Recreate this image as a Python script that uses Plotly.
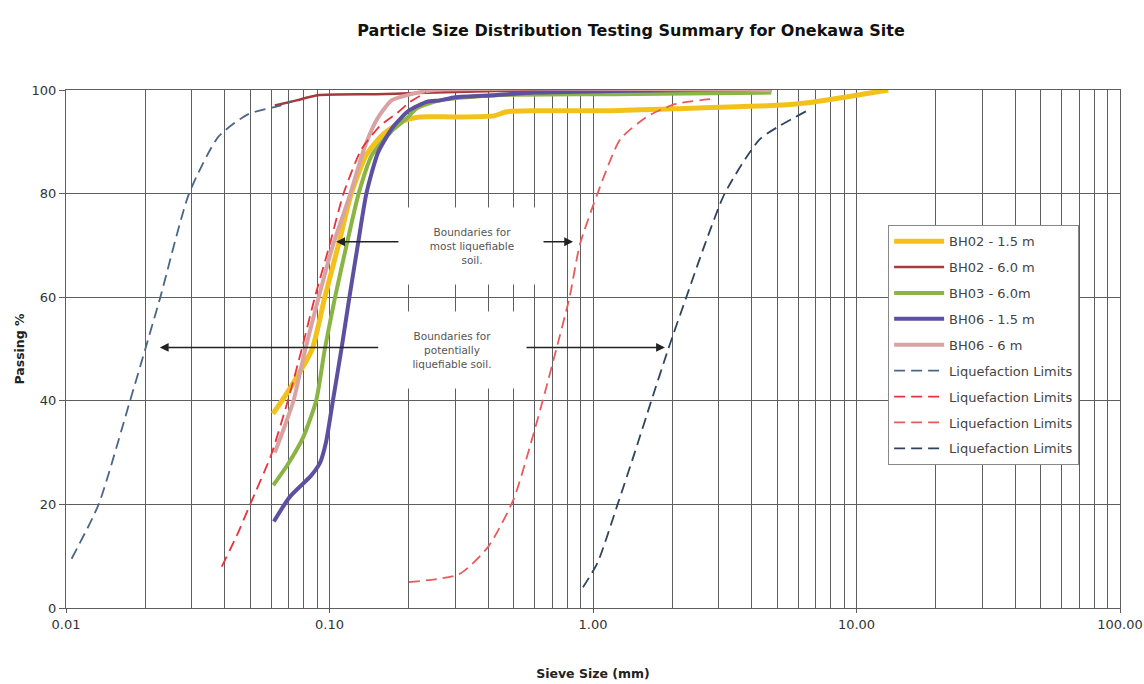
import numpy as np
import plotly.graph_objects as go

# ---- Sieve test results (sieve size in mm, percent passing) ----
bh02_15_x = [0.061, 0.068, 0.075, 0.086, 0.096, 0.108, 0.121, 0.138, 0.16, 0.19, 0.22, 0.3, 0.42, 0.47, 0.6, 1.18, 2.36, 4.75, 6.7, 9.5, 13.2]
bh02_15_y = [37.5, 41, 44.5, 50, 60, 70, 80, 87.5, 91.5, 94, 94.8, 94.8, 95, 95.8, 96, 96, 96.5, 97, 97.6, 98.8, 100]

bh02_60_x = [0.062, 0.075, 0.09, 0.15, 0.212, 0.3, 0.425, 1.18, 4.75]
bh02_60_y = [97, 98, 99, 99.2, 99.4, 99.6, 99.8, 100, 100]

bh03_60_x = [0.0612, 0.07, 0.0795, 0.089, 0.096, 0.105, 0.116, 0.129, 0.145, 0.174, 0.197, 0.215, 0.263, 0.425, 1.18, 4.75]
bh03_60_y = [23.7, 28, 33, 40, 50, 60, 70, 80, 87.5, 92.3, 94.6, 96.5, 98, 99, 99.2, 99.5]

bh06_15_x = [0.0615, 0.0708, 0.085, 0.092, 0.097, 0.103, 0.111, 0.119, 0.128, 0.138, 0.153, 0.175, 0.2, 0.234, 0.263, 0.3, 0.425, 0.6, 1.18, 2.36, 4.75]
bh06_15_y = [16.7, 21.5, 25.5, 28, 32, 40, 50, 60, 70, 80, 88, 93, 96, 97.7, 98, 98.6, 99, 99.5, 99.8, 100, 100]

bh06_6_x = [0.062, 0.0675, 0.073, 0.081, 0.091, 0.103, 0.12, 0.136, 0.152, 0.172, 0.197, 0.25, 4.75]
bh06_6_y = [30, 35, 40, 50, 60, 70, 80, 89, 94.5, 98, 99, 100, 100]

# ---- Liquefaction limit envelopes ----
lim_fine_pot_x = [0.0105, 0.0133, 0.0175, 0.02, 0.0228, 0.0293, 0.0379, 0.049, 0.065, 0.072]
lim_fine_pot_y = [9.5, 20, 40, 50, 60, 80, 91, 95.3, 97, 97.8]

lim_fine_most_x = [0.039, 0.0445, 0.05, 0.06, 0.0695, 0.0785, 0.088, 0.1, 0.113, 0.132, 0.155, 0.18, 0.202, 0.232]
lim_fine_most_y = [8, 14, 20, 29.5, 40, 50, 60, 70, 80, 88.5, 93, 95.5, 97.7, 99.5]

lim_coarse_most_x = [0.2, 0.31, 0.4, 0.5, 0.59, 0.66, 0.726, 0.815, 0.89, 1.04, 1.27, 1.62, 2.06, 2.86]
lim_coarse_most_y = [5, 6.5, 11.8, 21, 33, 42, 50, 60, 70, 80, 90.5, 95, 97.3, 98.3]

lim_coarse_pot_x = [0.916, 1.04, 1.24, 1.44, 1.665, 1.93, 2.26, 2.65, 3.16, 4.3, 6.5]
lim_coarse_pot_y = [4, 8.7, 20, 30, 40, 50, 60, 70, 80, 90.5, 96]

x_tick_vals = [0.01, 0.1, 1, 10, 100]
x_tick_text = ["0.01", "0.10", "1.00", "10.00", "100.00"]
y_tick_vals = [0, 20, 40, 60, 80, 100]

FONT = "DejaVu Sans"
GRID = "#5e5e5e"

fig = go.Figure()

samples = [
    ("BH02 - 1.5 m", bh02_15_x, bh02_15_y, "#f2c21a", 5),
    ("BH02 - 6.0 m", bh02_60_x, bh02_60_y, "#a5393b", 2.5),
    ("BH03 - 6.0m", bh03_60_x, bh03_60_y, "#8ab443", 4),
    ("BH06 - 1.5 m", bh06_15_x, bh06_15_y, "#5e50a0", 4),
    ("BH06 - 6 m", bh06_6_x, bh06_6_y, "#d9a3a3", 4),
]
for i, (name, xs, ys, col, w) in enumerate(samples):
    fig.add_trace(go.Scatter(
        x=xs, y=ys, name=name, mode="lines", legendgroup=f"g{i}",
        line=dict(color=col, width=w, shape="spline", smoothing=0.6),
    ))

limits = [
    (lim_fine_pot_x, lim_fine_pot_y, "#4a6687"),
    (lim_fine_most_x, lim_fine_most_y, "#e8323c"),
    (lim_coarse_most_x, lim_coarse_most_y, "#e65c5c"),
    (lim_coarse_pot_x, lim_coarse_pot_y, "#2f4460"),
]
for j, (xs, ys, col) in enumerate(limits):
    fig.add_trace(go.Scatter(
        x=xs, y=ys, name="Liquefaction Limits", mode="lines",
        legendgroup=f"l{j}",
        line=dict(color=col, width=1.8, dash="11px,6px", shape="spline", smoothing=0.6),
    ))

# Boundary arrows: (head x, head y, tail x, tail y) in data units
arrows = [
    (0.106, 70.7, 0.185, 70.7),
    (0.84, 70.7, 0.63, 70.7),
    (0.0227, 50.3, 0.155, 50.3),
    (1.875, 50.3, 0.552, 50.3),
]
annotations = []
for hx, hy, tx, ty in arrows:
    annotations.append(dict(
        x=np.log10(hx), y=hy, ax=np.log10(tx), ay=ty,
        xref="x", yref="y", axref="x", ayref="y",
        text="", showarrow=True, arrowhead=2, arrowsize=1.1,
        arrowwidth=1.6, arrowcolor="#222222",
    ))

boxes = [
    (0.3475, 69.9, "Boundaries for<br>most liquefiable<br>soil."),
    (0.2917, 49.8, "Boundaries for<br>potentially<br>liquefiable soil."),
]
for bx, by, txt in boxes:
    annotations.append(dict(
        x=np.log10(bx), y=by, xref="x", yref="y", text=txt, showarrow=False,
        bgcolor="white", width=140, height=74, align="center",
        font=dict(family=FONT, size=10.5, color="#555555"),
    ))

fig.update_layout(
    width=1144, height=684,
    margin=dict(l=66, r=24, t=90, b=76, autoexpand=False),
    paper_bgcolor="white", plot_bgcolor="white",
    title=dict(
        text="<b>Particle Size Distribution Testing Summary for Onekawa Site</b>",
        x=0.5516, xanchor="center", y=0.956, yanchor="middle",
        font=dict(family=FONT, size=16, color="#111111"),
    ),
    font=dict(family=FONT, color="#333333"),
    showlegend=True,
    legend=dict(
        x=0.78, y=0.739, xanchor="left", yanchor="top",
        bgcolor="white", bordercolor="#888888", borderwidth=1,
        font=dict(family=FONT, size=13, color="#444444"),
        tracegroupgap=6, itemwidth=50,
    ),
    annotations=annotations,
)

fig.update_xaxes(
    type="log", range=[-2, 2],
    tickvals=x_tick_vals, ticktext=x_tick_text,
    tickfont=dict(family=FONT, size=13, color="#333333"),
    showgrid=True, gridcolor=GRID, gridwidth=1,
    minor=dict(dtick="D1", showgrid=True, gridcolor=GRID, gridwidth=1),
    showline=True, linecolor=GRID, mirror=True,
    ticks="outside", ticklen=4, tickcolor=GRID,
    zeroline=False,
    title=dict(text="<b>Sieve Size (mm)</b>", standoff=38,
               font=dict(family=FONT, size=12.5, color="#222222")),
)
fig.update_yaxes(
    range=[0, 100], tickvals=y_tick_vals,
    tickfont=dict(family=FONT, size=13, color="#333333"),
    showgrid=True, gridcolor=GRID, gridwidth=1,
    showline=True, linecolor=GRID, mirror=True,
    ticks="outside", ticklen=6, tickcolor=GRID,
    zeroline=False,
    title=dict(text="<b>Passing %</b>", standoff=4,
               font=dict(family=FONT, size=12.5, color="#222222")),
)

fig.write_html("out.html")
